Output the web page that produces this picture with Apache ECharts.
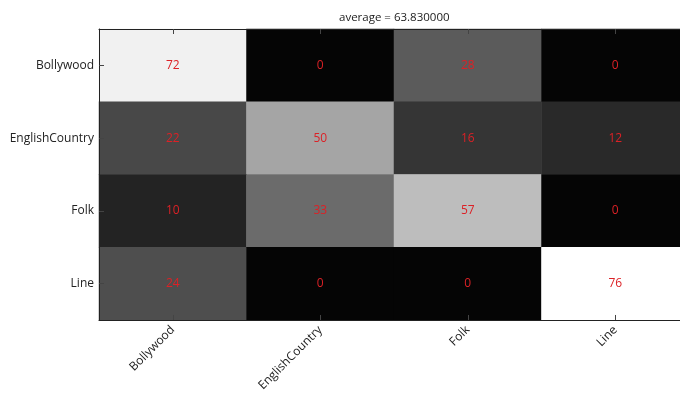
<!DOCTYPE html>
<html>
<head>
<meta charset="utf-8">
<script src="https://cdn.jsdelivr.net/npm/echarts@6/dist/echarts.min.js"></script>
<style>
  html, body { margin: 0; padding: 0; background: #fff; overflow: hidden; }
  #chart { width: 700px; height: 394px; }
</style>
</head>
<body>
<div id="chart"></div>
<script>
// Confusion matrix of genre classification (percent per true class)
const trueClasses = ['Bollywood', 'EnglishCountry', 'Folk', 'Line'];
const predClasses = ['Bollywood', 'EnglishCountry', 'Folk', 'Line'];

const rowBollywood      = [72, 0, 28, 0];
const rowEnglishCountry = [22, 50, 16, 12];
const rowFolk           = [10, 33, 57, 0];
const rowLine           = [24, 0, 0, 76];

const titleText = 'average = 63.830000';

const rows = [rowBollywood, rowEnglishCountry, rowFolk, rowLine];
const cells = [];
rows.forEach((row, r) => {
  row.forEach((v, c) => cells.push([c, r, v]));
});

const font = '"Open Sans", "Noto Sans", sans-serif';
const axisColor = '#222';

// The plot box runs slightly past the right edge of the window.
const chart = echarts.init(document.getElementById('chart'), null, { renderer: 'canvas' });
chart.setOption({
  animation: false,
  backgroundColor: '#fff',
  title: {
    text: titleText,
    left: 334,
    top: 7,
    textStyle: { fontFamily: font, fontSize: 11.5, fontWeight: 'normal', color: '#222' }
  },
  grid: { left: 99, top: 29, width: 590, height: 291, containLabel: false },
  visualMap: {
    show: false,
    type: 'continuous',
    min: 0,
    max: 76,
    dimension: 2,
    // gray colormap, black (0) to white (max)
    inRange: { color: ['#050505', '#3e3e3e', '#7b7b7b', '#bdbdbd', '#ffffff'] }
  },
  xAxis: [
    {
      type: 'category',
      data: predClasses,
      position: 'bottom',
      z: 10,
      axisLine: { show: true, lineStyle: { color: axisColor, width: 1 } },
      axisTick: { show: true, inside: true, alignWithLabel: true, length: 5, lineStyle: { color: '#444' } },
      axisLabel: { rotate: 45, margin: 8, fontFamily: font, fontSize: 12, color: '#222' },
      splitLine: { show: false }
    },
    {
      type: 'category',
      data: predClasses,
      position: 'top',
      z: 10,
      axisLine: { show: true, lineStyle: { color: axisColor, width: 1 } },
      axisTick: { show: true, inside: true, alignWithLabel: true, length: 5, lineStyle: { color: '#444' } },
      axisLabel: { show: false },
      splitLine: { show: false }
    }
  ],
  yAxis: [
    {
      type: 'category',
      data: trueClasses,
      inverse: true,
      position: 'left',
      z: 10,
      axisLine: { show: true, lineStyle: { color: axisColor, width: 1 } },
      axisTick: { show: true, inside: true, alignWithLabel: true, length: 5, lineStyle: { color: '#444' } },
      axisLabel: { margin: 5, fontFamily: font, fontSize: 12, color: '#222', padding: [3, 0, 0, 0] },
      splitLine: { show: false }
    }
  ],
  series: [{
    type: 'heatmap',
    xAxisIndex: 0,
    yAxisIndex: 0,
    data: cells,
    label: {
      show: true,
      formatter: p => String(p.value[2]),
      color: '#dc2126',
      fontFamily: font,
      fontSize: 12
    },
    itemStyle: { borderWidth: 0 },
    emphasis: { disabled: true }
  }]
});
</script>
</body>
</html>
